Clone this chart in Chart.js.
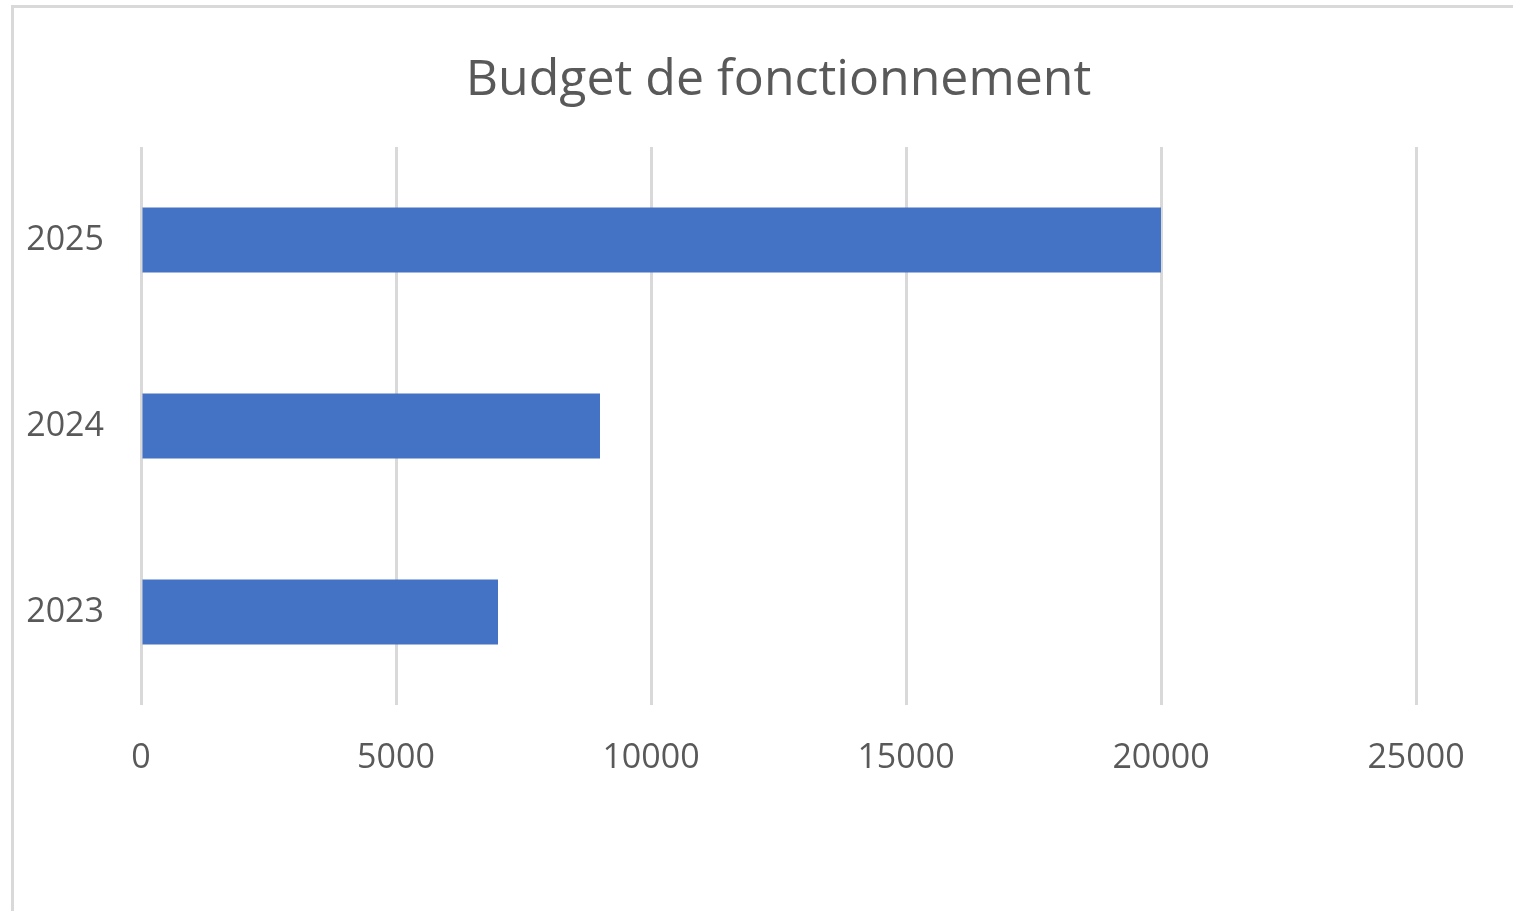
<!DOCTYPE html>
<html>
<head>
<meta charset="utf-8">
<script src="https://cdn.jsdelivr.net/npm/chart.js@4"></script>
<style>
  html, body { margin: 0; padding: 0; background: #ffffff; overflow: hidden; }
  body { width: 1513px; height: 911px; position: relative; }
  #frame { position: absolute; left: 11px; top: 5px; width: 1520px; height: 920px;
           border-left: 3px solid #d9d9d9; border-top: 3px solid #d9d9d9; box-sizing: border-box; }
  #wrap { position: absolute; left: 25px; top: 0; width: 1488px; height: 911px; }
</style>
</head>
<body>
<div id="frame"></div>
<div id="wrap"><canvas id="c"></canvas></div>
<script>
const categories = ['2023', '2024', '2025'];
const budgetValues = [7000, 9000, 20000];
const xTickValues = [0, 5000, 10000, 15000, 20000, 25000];
const chartTitle = 'Budget de fonctionnement';

const FONT = "'Open Sans', 'Noto Sans', sans-serif";
const TEXT = '#595959';

new Chart(document.getElementById('c'), {
  type: 'bar',
  data: {
    labels: categories,
    datasets: [{
      data: budgetValues,
      backgroundColor: '#4472C4',
      borderWidth: 0,
      categoryPercentage: 1,
      barPercentage: 0.35
    }]
  },
  options: {
    indexAxis: 'y',
    responsive: true,
    maintainAspectRatio: false,
    animation: false,
    layout: { padding: { left: 0, right: 97, top: 0, bottom: 0 } },
    plugins: {
      legend: { display: false },
      tooltip: { enabled: false },
      title: {
        display: true,
        fullSize: false,
        text: chartTitle,
        color: TEXT,
        font: { family: FONT, size: 50, weight: 'normal', lineHeight: 1.2 },
        padding: { top: 51, bottom: 36 }
      }
    },
    scales: {
      x: {
        min: 0, max: 25000,
        afterBuildTicks: (s) => { s.ticks = xTickValues.map(v => ({ value: v })); },
        afterFit: (s) => { s.height = 911 - 705; },
        grid: { color: '#d9d9d9', lineWidth: 3, drawTicks: false },
        border: { display: false },
        ticks: { color: TEXT, padding: 33, maxRotation: 0,
                 callback: (v) => String(v),
                 font: { family: FONT, size: 34, lineHeight: 1.2 } }
      },
      y: {
        reverse: true,
        afterFit: (s) => { s.width = 116; },
        grid: { display: false, drawTicks: false },
        border: { display: false },
        ticks: { color: TEXT, padding: 37,
                 font: { family: FONT, size: 34, lineHeight: 1.2 } }
      }
    }
  }
});
</script>
</body>
</html>
